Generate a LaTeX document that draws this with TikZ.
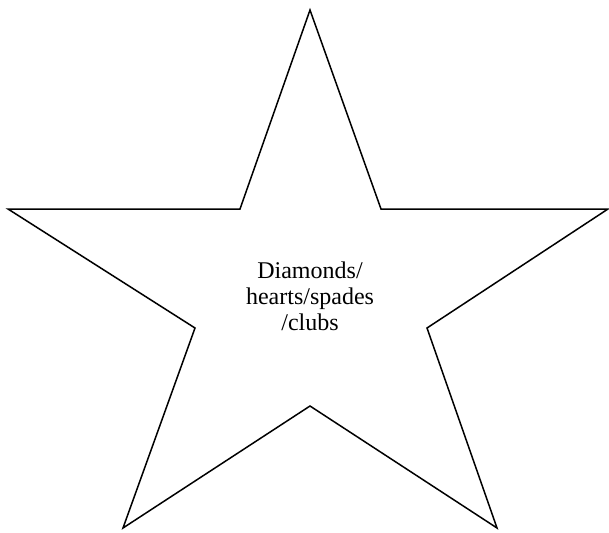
\documentclass[tikz,border=0pt]{standalone}
\usepackage{fontspec}
\setmainfont{Liberation Serif}
\begin{document}
\begin{tikzpicture}[x=1pt,y=-1pt,
  starline/.style={draw=black,line width=1.5pt,line join=miter},
  label/.style={align=center,font=\fontsize{24}{26}\selectfont,inner sep=0pt}]
\useasboundingbox (0,0) rectangle (609,532);
\coordinate (t) at (310,10);
\coordinate (ir) at (381,209);
\coordinate (r) at (608,209);
\coordinate (imr) at (427,328);
\coordinate (br) at (497,528);
\coordinate (ib) at (310,406);
\coordinate (bl) at (123,528);
\coordinate (iml) at (195,328);
\coordinate (l) at (8,209);
\coordinate (il) at (240,209);
\draw[starline] (t) -- (ir) -- (r) -- (imr) -- (br) -- (ib) -- (bl) -- (iml) -- (l) -- (il) -- cycle;
\node[label] (txt) at (310,296) {Diamonds/\\hearts/spades\\/clubs};
\end{tikzpicture}
\end{document}
